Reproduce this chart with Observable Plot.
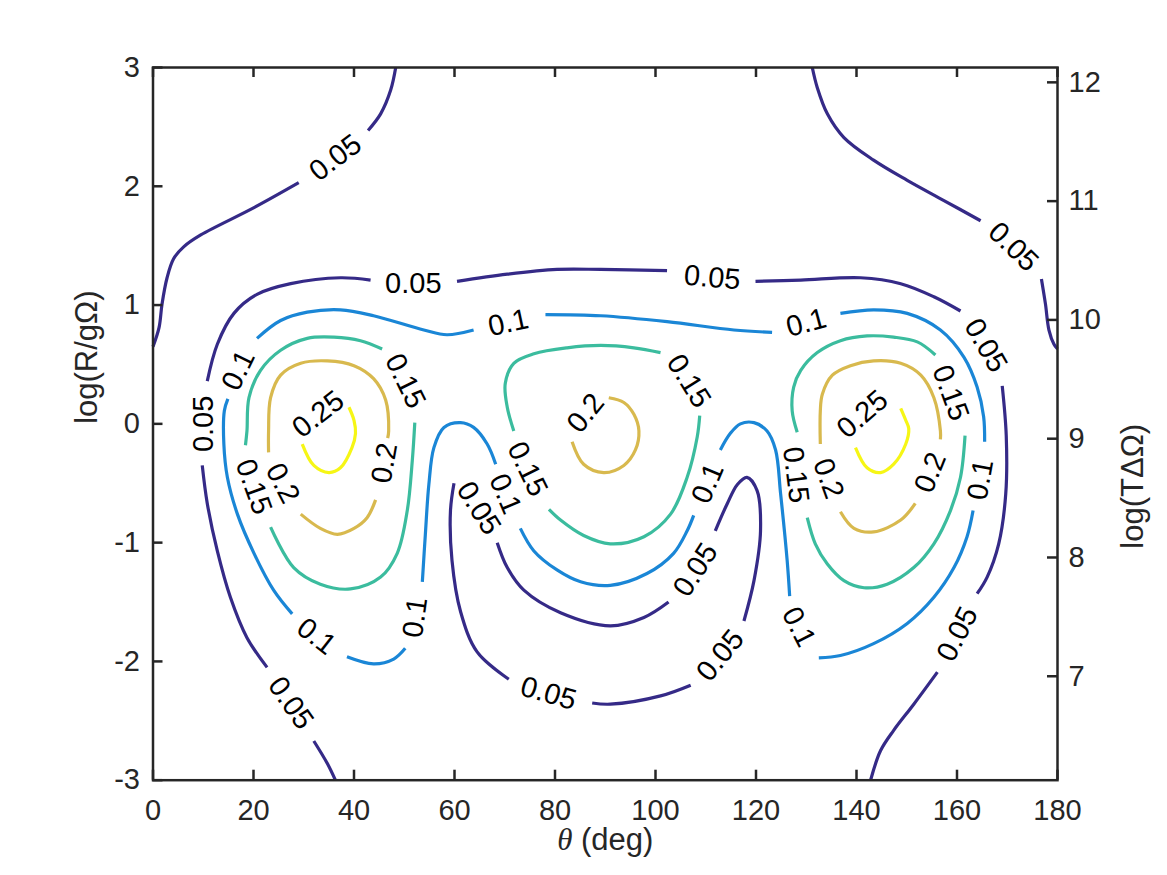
<!DOCTYPE html>
<html>
<head>
<meta charset="utf-8">
<script src="https://cdn.jsdelivr.net/npm/d3@7"></script>
<script src="https://cdn.jsdelivr.net/npm/@observablehq/plot@0.6"></script>
<style>
  html, body { margin: 0; padding: 0; background: #ffffff; }
  #chart { width: 1167px; height: 875px; }
</style>
</head>
<body>
<div id="chart"></div>
<script>
// ---- contour levels and colours ----
const levels = [0.05, 0.1, 0.15, 0.2, 0.25];
const levelColors = ["#352a87", "#1a86d6", "#3bbc9e", "#d8b94e", "#f6f615"];

// ---- traced contour segments: [theta (deg), log(R/gΩ)] ----
const level005Segments = [
  [[0,0.65],[1.2,0.81],[1.8,1.01],[2.8,1.23],[4.1,1.39],[6.1,1.49],[9.5,1.59],[20.1,1.82],[29.0,2.03]],
  [[42.8,2.47],[45.3,2.61],[47.3,2.81],[48.3,3.0]],
  [[131.2,3.0],[132.2,2.83],[134.2,2.61],[137.5,2.41],[143.4,2.22],[150.1,2.05],[157.4,1.88],[164.7,1.71]],
  [[176.8,1.22],[177.6,1.01],[178.3,0.79],[179.3,0.67],[180,0.63]],
  [[36.3,-3.0],[34.7,-2.86],[32.0,-2.67]],
  [[22.7,-2.05],[18.7,-1.80],[15.4,-1.46],[12.8,-1.07],[10.8,-0.67],[9.8,-0.35]],
  [[10.8,0.36],[12.8,0.67],[16.1,0.93],[20.7,1.09],[27.4,1.18],[37.3,1.23],[43.3,1.21]],
  [[60.5,1.20],[70.5,1.26],[80.4,1.30],[89.1,1.30],[102.3,1.29]],
  [[119.9,1.20],[128.9,1.21],[140.8,1.23],[148.8,1.18],[155.4,1.07],[160.7,0.95]],
  [[169.0,0.32],[169.8,-0.10],[169.7,-0.59],[168.3,-1.01],[166.0,-1.29],[164.0,-1.43]],
  [[156.1,-2.09],[151.4,-2.36],[147.4,-2.58],[144.8,-2.75],[142.8,-3.0]],
  [[59.9,-0.50],[59.2,-0.73],[59.5,-1.15],[61.2,-1.58],[64.5,-1.92],[70.8,-2.15]],
  [[87.4,-2.35],[91.0,-2.36],[101.0,-2.29],[107.0,-2.20]],
  [[117.6,-1.66],[119.6,-1.32],[120.9,-0.90],[120.2,-0.56],[118.2,-0.45],[116.3,-0.51],[114.3,-0.67],[111.9,-0.90]],
  [[102.6,-1.50],[97.7,-1.63],[91.0,-1.70],[81.1,-1.59],[73.8,-1.40],[70.5,-1.21],[68.5,-1.00]]
];
const level010Segments = [
  [[20.7,0.72],[25.4,0.87],[30.7,0.94],[37.3,0.96],[43.9,0.91],[53.9,0.79],[58.5,0.75],[63.8,0.79]],
  [[78.1,0.92],[89.1,0.91],[102.3,0.86],[115.6,0.79],[123.2,0.77]],
  [[136.8,0.93],[143.4,0.96],[150.1,0.93],[156.7,0.79],[161.4,0.56],[164.0,0.31],[165.3,0.06],[165.5,-0.15]],
  [[163.2,-0.73],[162.0,-0.95],[159.4,-1.21],[155.4,-1.46],[150.1,-1.68],[143.4,-1.85],[136.8,-1.95],[132.5,-1.97]],
  [[126.7,-1.45],[126.2,-1.15],[124.9,-0.59],[123.9,-0.22],[122.2,-0.06],[119.6,0.01],[116.9,0.0],[114.9,-0.08],[112.9,-0.22]],
  [[107.6,-0.77],[106.3,-0.90],[103.6,-1.09],[98.3,-1.26],[91.0,-1.36],[85.1,-1.33],[80.4,-1.23],[75.8,-1.07],[73.1,-0.88]],
  [[68.2,-0.34],[66.5,-0.17],[63.8,-0.03],[61.2,0.01],[57.9,-0.03],[55.9,-0.20],[54.9,-0.51],[54.2,-0.93],[53.6,-1.33]],
  [[50.2,-1.89],[47.9,-1.98],[43.9,-2.02],[38.6,-1.96]],
  [[27.7,-1.60],[24.0,-1.40],[20.1,-1.09],[16.8,-0.76],[14.8,-0.45],[14.1,-0.17],[14.2,0.11],[14.9,0.21]]
];
const level015Segments = [
  [[18.4,-0.18],[18.7,-0.06],[19.1,0.22],[21.4,0.45],[25.4,0.62],[30.7,0.72],[36.0,0.73],[41.3,0.70],[45.6,0.63]],
  [[52.1,0.01],[51.6,-0.31],[50.6,-0.73],[48.6,-1.09],[45.3,-1.29],[39.3,-1.39],[33.3,-1.35],[28.0,-1.21],[23.4,-0.87]],
  [[71.8,-0.06],[70.5,0.14],[70.1,0.34],[71.8,0.51],[75.8,0.59],[82.4,0.64],[89.1,0.66],[95.7,0.64],[101.0,0.60]],
  [[108.8,0.07],[108.3,-0.11],[106.3,-0.45],[103.0,-0.76],[97.7,-0.95],[91.0,-1.01],[85.7,-0.94],[81.1,-0.81],[78.8,-0.72]],
  [[155.7,0.58],[152.1,0.69],[147.4,0.73],[142.1,0.74],[136.8,0.70],[132.2,0.60],[128.9,0.45],[127.5,0.31],[127.2,0.11],[128.2,-0.07]],
  [[130.2,-0.79],[131.8,-1.01],[134.2,-1.18],[137.5,-1.32],[141.5,-1.38],[146.1,-1.35],[151.4,-1.21],[155.4,-1.01],[158.7,-0.73],[160.7,-0.45],[161.6,-0.10]]
];
const level020Segments = [
  [[23.0,-0.24],[23.0,-0.06],[23.4,0.22],[25.4,0.41],[29.4,0.51],[34.7,0.53],[40.0,0.49],[43.9,0.38],[46.3,0.20],[46.9,-0.06],[46.7,-0.12]],
  [[44.3,-0.64],[42.6,-0.79],[40.0,-0.88],[36.7,-0.93],[33.3,-0.88],[29.4,-0.76]],
  [[90.7,0.22],[93.7,0.18],[95.7,0.08],[96.7,-0.06],[96.0,-0.22],[93.7,-0.35],[89.7,-0.41],[85.7,-0.34],[83.4,-0.15]],
  [[132.8,-0.17],[132.8,0.11],[133.2,0.25],[135.2,0.41],[138.8,0.49],[143.4,0.53],[148.8,0.51],[152.8,0.41],[155.4,0.22],[156.7,-0.06],[156.7,-0.13]],
  [[151.7,-0.67],[148.8,-0.81],[143.4,-0.91],[139.5,-0.88],[136.8,-0.74]]
];
const level025Segments = [
  [[39.0,0.14],[40.0,0.03],[40.3,-0.08],[39.6,-0.20],[37.3,-0.37],[35.0,-0.41],[32.0,-0.35],[29.7,-0.17]],
  [[148.8,0.13],[149.8,0.03],[150.4,-0.04],[149.8,-0.17],[147.4,-0.34],[144.8,-0.41],[142.1,-0.37],[139.8,-0.20]]
];

// ---- inline contour labels: [theta, logR, level, angle] ----
const contourLabels = [
  [36.3, 2.24, 0.05, -37], [171.2, 1.49, 0.05, 44], [27.4, -2.35, 0.05, 55], [10.0, 0.0, 0.05, -90],
  [51.8, 1.18, 0.05, 0], [111.3, 1.23, 0.05, 5], [165.7, 0.66, 0.05, 60], [160.1, -1.77, 0.05, -63],
  [78.7, -2.27, 0.05, 16], [112.9, -1.95, 0.05, -51], [108.0, -1.23, 0.05, -57], [64.8, -0.71, 0.05, 58],
  [70.7, 0.85, 0.1, -12], [130.0, 0.85, 0.1, -15], [164.7, -0.47, 0.1, -80], [128.5, -1.71, 0.1, 63],
  [110.4, -0.50, 0.1, -67], [70.1, -0.59, 0.1, 67], [52.2, -1.63, 0.1, -82], [32.5, -1.79, 0.1, 38],
  [17.0, 0.45, 0.1, -64],
  [50.2, 0.36, 0.15, 64], [20.0, -0.53, 0.15, 70], [106.6, 0.36, 0.15, 58], [74.5, -0.38, 0.15, 64],
  [127.9, -0.43, 0.15, 83], [158.7, 0.26, 0.15, 70],
  [46.1, -0.33, 0.2, -80], [25.8, -0.50, 0.2, 62], [86.1, 0.09, 0.2, -51], [154.7, -0.41, 0.2, -68],
  [134.4, -0.46, 0.2, 70],
  [32.9, 0.08, 0.25, -38], [141.2, 0.08, 0.25, -41]
];

// ---- axes ----
const xTicks = [0, 20, 40, 60, 80, 100, 120, 140, 160, 180];
const yTicks = [-3, -2, -1, 0, 1, 2, 3];
const rightTicks = [7, 8, 9, 10, 11, 12];
const rightAxisOffset = 9.125; // log(TΔΩ) = log(R/gΩ) + offset
const xLabel = "θ (deg)";
const yLabel = "log(R/gΩ)";
const yRightLabel = "log(TΔΩ)";

// ---- build rows ----
const segmentSets = [level005Segments, level010Segments, level015Segments, level020Segments, level025Segments];
const lineRows = [];
segmentSets.forEach((segs, li) => {
  segs.forEach((seg, si) => {
    seg.forEach(([theta, logR]) => lineRows.push({level: levels[li], seg: `${li}-${si}`, theta, logR}));
  });
});
const labelRows = contourLabels.map(([theta, logR, level, angle]) => ({theta, logR, level, angle}));

const W = 1167, H = 875;
const mL = 152.5, mR = 110, mT = 67, mB = 95.3;
const plotW = W - mL - mR, plotH = H - mT - mB;
const axisColor = "#262626";
const font = "'Liberation Sans', Arial, Helvetica, sans-serif";

const chart = Plot.plot({
  width: W, height: H,
  marginLeft: mL, marginRight: mR, marginTop: mT, marginBottom: mB,
  x: {domain: [0, 180], axis: null},
  y: {domain: [-3, 3], axis: null},
  color: {type: "ordinal", domain: levels, range: levelColors},
  style: {fontFamily: font, background: "#ffffff", overflow: "visible"},
  marks: [
    Plot.line(lineRows, {x: "theta", y: "logR", z: "seg", stroke: "level", strokeWidth: 3.2, curve: "catmull-rom", strokeLinecap: "butt"}),
    Plot.text(labelRows, {x: "theta", y: "logR", text: d => String(d.level), rotate: "angle", fontSize: 29, fill: "#000000"}),
    Plot.frame({stroke: axisColor, strokeWidth: 2.5}),
    Plot.ruleX(xTicks, {x: d => d, insetTop: plotH - 10, stroke: axisColor, strokeWidth: 2.5}),
    Plot.ruleX(xTicks, {x: d => d, insetBottom: plotH - 10, stroke: axisColor, strokeWidth: 2.5}),
    Plot.ruleY(yTicks, {y: d => d, insetRight: plotW - 10, stroke: axisColor, strokeWidth: 2.5}),
    Plot.ruleY(rightTicks, {y: d => d - rightAxisOffset, insetLeft: plotW - 10, stroke: axisColor, strokeWidth: 2.5}),
    Plot.axisX(xTicks, {anchor: "bottom", tickSize: 0, tickPadding: 19, fontSize: 29, color: axisColor, label: null}),
    Plot.axisY(yTicks, {anchor: "left", tickSize: 0, tickPadding: 13, fontSize: 29, color: axisColor, label: null, tickFormat: d => String(d)}),
    Plot.axisY(rightTicks.map(t => t - rightAxisOffset), {anchor: "right", tickSize: 0, tickPadding: 11, fontSize: 29, color: axisColor, label: null, tickFormat: d => String(Math.round(d + rightAxisOffset))}),
    Plot.text([xLabel], {frameAnchor: "bottom", dy: 70, fontSize: 31, fill: axisColor}),
    Plot.text([yLabel], {frameAnchor: "left", dx: -66, rotate: -90, fontSize: 31, fill: axisColor}),
    Plot.text([yRightLabel], {frameAnchor: "right", dx: 76, rotate: -90, fontSize: 31, fill: axisColor})
  ]
});

// italic theta in the x label
d3.select(chart).selectAll("text").filter(function() { return this.textContent === xLabel; }).each(function() {
  const t = d3.select(this);
  t.text(null);
  t.append("tspan").attr("font-style", "italic").attr("font-family", "'Liberation Serif', 'Times New Roman', serif").text("θ");
  t.append("tspan").text(" (deg)");
});

document.getElementById("chart").appendChild(chart);
</script>
</body>
</html>
